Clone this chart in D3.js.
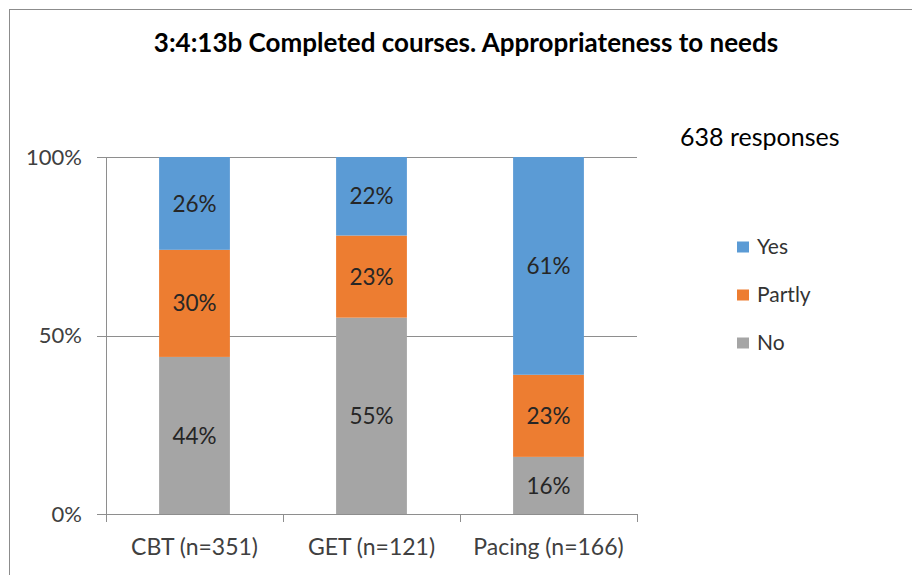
<!DOCTYPE html>
<html><head><meta charset="utf-8">
<script src="https://cdn.jsdelivr.net/npm/d3@7/dist/d3.min.js"></script>
<style>
html,body{margin:0;padding:0;background:#fff;}
text{font-family:Lato,"Open Sans",sans-serif;}
</style></head>
<body>
<svg id="chart" width="912" height="575"></svg>
<script>
const categories = ["CBT (n=351)", "GET (n=121)", "Pacing (n=166)"];
const seriesNames = ["No", "Partly", "Yes"];
const noValues = [44, 55, 16];
const partlyValues = [30, 23, 23];
const yesValues = [26, 22, 61];
const yTicks = [0, 50, 100];
const colors = {No: "#A5A5A5", Partly: "#ED7D31", Yes: "#5B9BD5"};
const legendOrder = ["Yes", "Partly", "No"];
const titleText = "3:4:13b Completed courses. Appropriateness to needs";
const noteText = "638 responses";

(function () {
const rows = categories.map((c, i) => ({cat: c, No: noValues[i], Partly: partlyValues[i], Yes: yesValues[i]}));
const stack = d3.stack().keys(seriesNames)(rows);

const svg = d3.select("#chart");
svg.append("rect").attr("x", 9.5).attr("y", 9.5).attr("width", 1000).attr("height", 1000)
  .attr("fill", "#fff").attr("stroke", "#8c8c8c").attr("stroke-width", 1);

const pLeft = 106, pRight = 637, pTop = 157, pBottom = 514;
const x = d3.scaleBand().domain(categories).range([pLeft, pRight]).paddingInner(0.6).paddingOuter(0.3);
const y = d3.scaleLinear().domain([0, 100]).range([pBottom, pTop]);

// gridlines + y labels
const yAxis = d3.axisLeft(y).tickValues(yTicks).tickFormat(d => d + "%")
  .tickSizeInner(-(pRight - 97)).tickSizeOuter(0).tickPadding(15);
const gy = svg.append("g").attr("transform", "translate(97,0)").call(yAxis);
gy.select(".domain").remove();
gy.selectAll(".tick line").attr("stroke", "#8e8e8e").attr("shape-rendering", "crispEdges");
gy.selectAll(".tick text").attr("fill", "#404040").style("font-size", "22px").style("font-family", "Lato");

// y axis line
svg.append("line").attr("x1", pLeft + 0.5).attr("x2", pLeft + 0.5).attr("y1", pTop).attr("y2", pBottom)
  .attr("stroke", "#8e8e8e");

// bars
const layer = svg.append("g").selectAll("g").data(stack).join("g").attr("fill", d => colors[d.key]);
layer.selectAll("rect").data(d => d).join("rect")
  .attr("x", d => x(d.data.cat)).attr("width", x.bandwidth())
  .attr("y", d => y(d[1])).attr("height", d => y(d[0]) - y(d[1]));

// labels
const lab = svg.append("g");
stack.forEach(s => {
  s.forEach(d => {
    lab.append("text")
      .attr("x", x(d.data.cat) + x.bandwidth() / 2)
      .attr("y", (y(d[0]) + y(d[1])) / 2)
      .attr("dy", "0.36em").attr("text-anchor", "middle")
      .attr("fill", "#262626").style("font-size", "22.5px")
      .text((d[1] - d[0]) + "%");
  });
});

// x axis
const step = x.step();
const boundaries = [0, 1, 2, 3].map(i => pLeft + i * step);
svg.append("line").attr("x1", 97).attr("x2", pRight).attr("y1", pBottom + 0.5).attr("y2", pBottom + 0.5).attr("stroke", "#8e8e8e");
svg.append("g").selectAll("line").data(boundaries).join("line")
  .attr("x1", d => Math.round(d) + 0.5).attr("x2", d => Math.round(d) + 0.5)
  .attr("y1", pBottom).attr("y2", pBottom + 8).attr("stroke", "#8e8e8e");
svg.append("g").selectAll("text").data(categories).join("text")
  .attr("x", d => x(d) + x.bandwidth() / 2).attr("y", 555)
  .attr("text-anchor", "middle").attr("fill", "#404040").style("font-size", "23px")
  .text(d => d);

// title
svg.append("text").attr("x", 466).attr("y", 52).attr("text-anchor", "middle")
  .attr("fill", "#000").style("font-size", "26px").style("font-weight", "bold").text(titleText);

// note
svg.append("text").attr("x", 680).attr("y", 146).attr("fill", "#000").style("font-size", "25px").text(noteText);

// legend
const lg = svg.append("g").selectAll("g").data(legendOrder).join("g")
  .attr("transform", (d, i) => `translate(737,${247 + i * 48})`);
lg.append("rect").attr("x", 0).attr("y", -5.5).attr("width", 12).attr("height", 11).attr("fill", d => colors[d]);
lg.append("text").attr("x", 20).attr("y", 0).attr("dy", "0.34em").attr("fill", "#333")
  .style("font-size", "21px").text(d => d);
})();
</script>
</body></html>
